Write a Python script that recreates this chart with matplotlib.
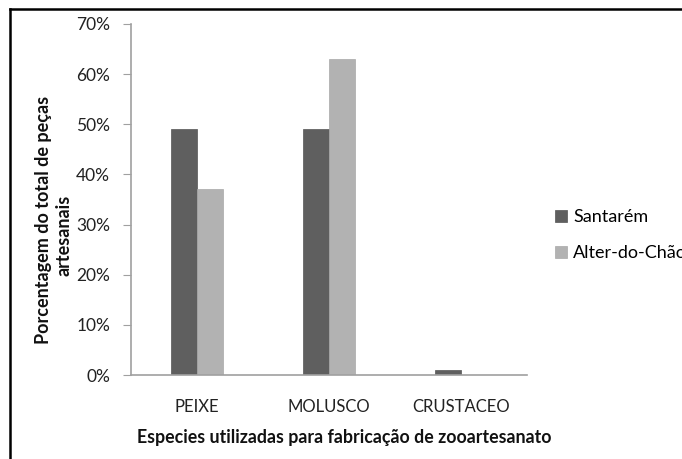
import numpy as np
import matplotlib.pyplot as plt
from matplotlib.lines import Line2D

plt.rcParams['font.family'] = ['Lato', 'DejaVu Sans']

categorias = ["PEIXE", "MOLUSCO", "CRUSTACEO"]
santarem = [49, 49, 1]
alter_do_chao = [37, 63, 0]
series = ["Santarém", "Alter-do-Chão"]
cores = ["#5f5f5f", "#b2b2b2"]

fig = plt.figure(figsize=(6.82, 4.59), dpi=100)
ax = fig.add_axes([131 / 682, 1 - 375 / 459, 396 / 682, 351 / 459])

x = np.arange(len(categorias))
largura = 0.2
b1 = ax.bar(x - largura / 2, santarem, largura, color=cores[0], edgecolor="#555555", linewidth=0.5, label=series[0])
b2 = ax.bar(x + largura / 2, alter_do_chao, largura, color=cores[1], edgecolor="#a8a8a8", linewidth=0.5, label=series[1])

ax.set_xlim(-0.5, 2.5)
ax.set_ylim(0, 70)
ax.set_yticks(np.arange(0, 71, 10))
ax.set_yticklabels([f"{v}%" for v in range(0, 71, 10)], fontsize=12.5, color="#222222")
ax.set_xticks(x)
ax.set_xticklabels(categorias, fontsize=12, color="#222222")
ax.tick_params(axis="x", length=0, pad=17)
ax.tick_params(axis="y", length=6, color="#a0a0a0", pad=9)

for s in ["top", "right"]:
    ax.spines[s].set_visible(False)
for s in ["left", "bottom"]:
    ax.spines[s].set_color("#a0a0a0")
    ax.spines[s].set_linewidth(1.2)

# rótulos dos eixos
fig.text(344 / 682, 1 - 437 / 459, "Especies utilizadas para fabricação de zooartesanato",
         ha="center", va="center", fontsize=12.8, fontweight="bold", color="#111111")
fig.text(44 / 682, 1 - 220 / 459, "Porcentagem do total de peças", rotation=90,
         ha="center", va="center", fontsize=13, fontweight="bold", color="#111111")
fig.text(64 / 682, 1 - 235 / 459, "artesanais", rotation=90,
         ha="center", va="center", fontsize=13, fontweight="bold", color="#111111")

fig.legend(handles=[b1, b2], labels=series, loc="center left",
           bbox_to_anchor=(555 / 682, 1 - 235 / 459), frameon=False, fontsize=13,
           handlelength=0.65, handleheight=0.65, handletextpad=0.35, labelspacing=1.1,
           borderaxespad=0, borderpad=0)

# moldura (só topo e lado esquerdo aparecem)
fig.add_artist(Line2D([9.5 / 682, 1.0], [1 - 8.5 / 459, 1 - 8.5 / 459], transform=fig.transFigure,
                      color="black", linewidth=1.8))
fig.add_artist(Line2D([9.5 / 682, 9.5 / 682], [0.0, 1 - 8.5 / 459], transform=fig.transFigure,
                      color="black", linewidth=1.8))

fig.savefig("out.png", dpi=100)
